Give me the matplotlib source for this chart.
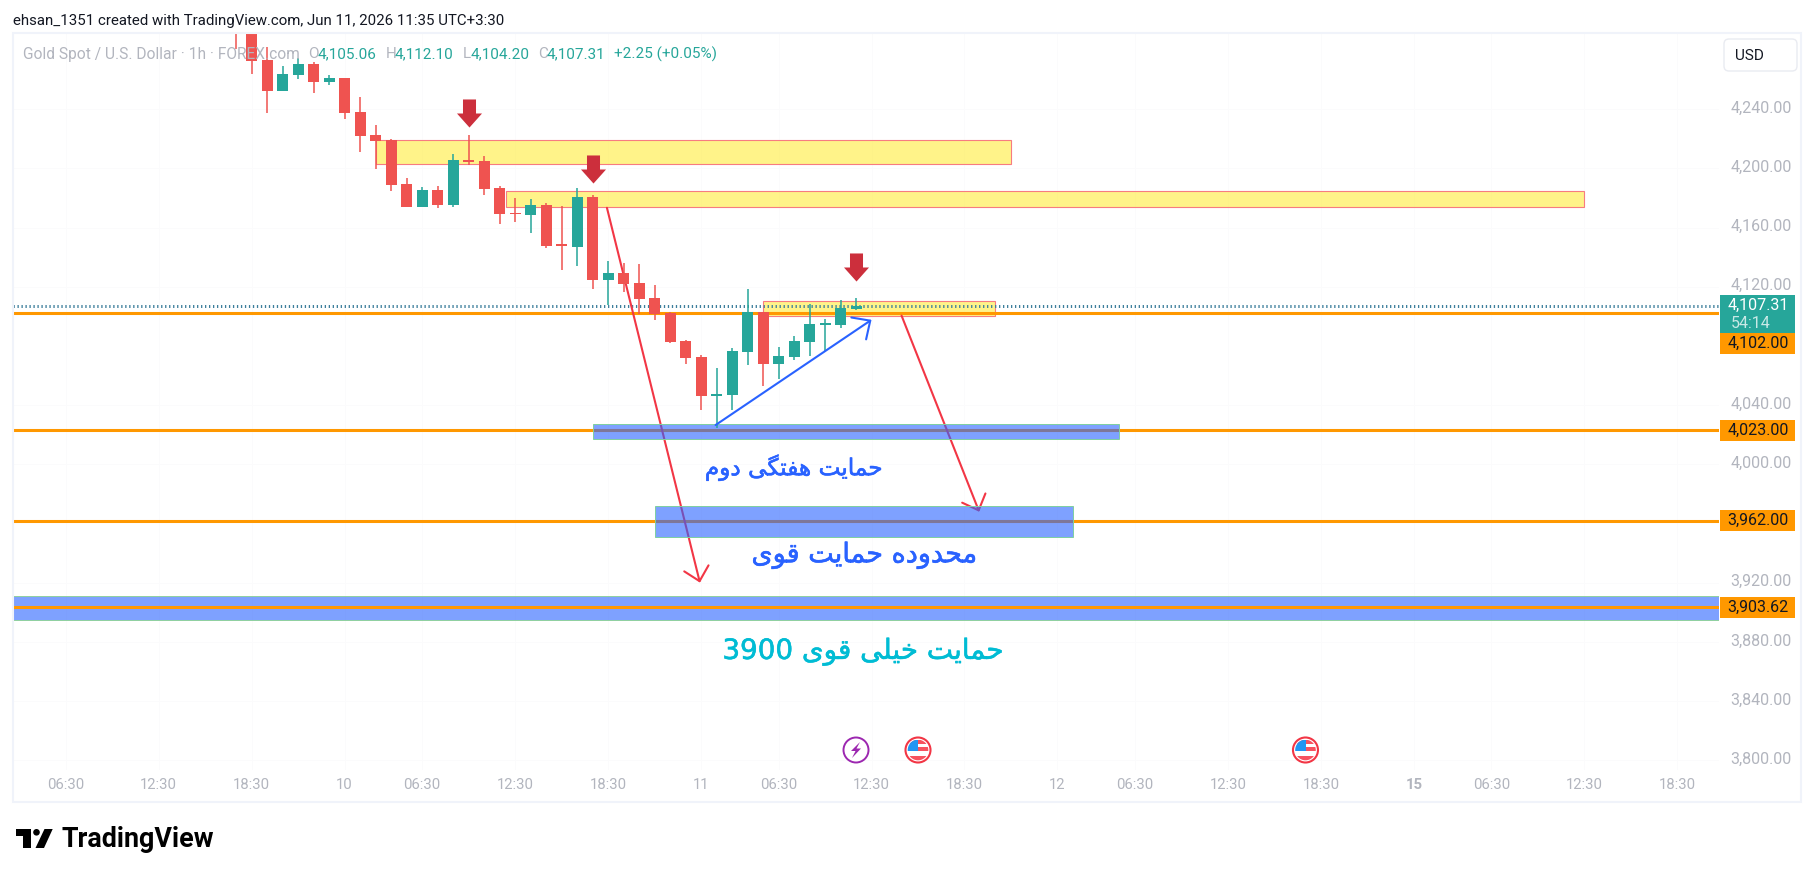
import matplotlib
matplotlib.use("Agg")
import matplotlib.pyplot as plt
from matplotlib.patches import Rectangle, FancyBboxPatch, Polygon, Circle
from matplotlib.path import Path
from matplotlib.transforms import Affine2D
from matplotlib.colors import to_rgba
import matplotlib.patheffects as pe

plt.rcParams['font.family'] = ['Roboto', 'DejaVu Sans']

# candles, one per hour, first one is mostly above the visible range
opens = [4310, 4295, 4273.2, 4252.5, 4263.3, 4270.5, 4258.6, 4261.1, 4238.1, 4222.6,
         4219.0, 4189.5, 4174.1, 4185.4, 4175.5, 4205.7, 4205.0, 4186.8, 4169.7, 4168.7,
         4175.3, 4148.2, 4147.1, 4180.7, 4124.8, 4129.3, 4122.6, 4112.4, 4102.3, 4083.4,
         4072.6, 4046.4, 4047.1, 4076.2, 4103.0, 4067.8, 4072.6, 4082.7, 4094.4, 4094.4,
         4105.06]
highs = [4320, 4300, 4281.8, 4269.2, 4274.8, 4272.1, 4262.9, 4261.1, 4248.0, 4229.1,
         4219.9, 4193.3, 4187.2, 4188.1, 4209.5, 4222.6, 4208.4, 4188.1, 4179.8, 4179.1,
         4176.6, 4174.6, 4186.6, 4182.0, 4137.4, 4135.9, 4135.2, 4121.2, 4103.0, 4084.1,
         4073.7, 4065.1, 4078.6, 4118.5, 4103.0, 4079.3, 4086.8, 4108.4, 4098.2, 4111.1,
         4112.10]
lows = [4281, 4263.8, 4237.6, 4252.5, 4260.6, 4251.1, 4256.4, 4233.6, 4211.3, 4199.8,
        4184.9, 4174.1, 4173.7, 4173.4, 4174.1, 4202.5, 4182.2, 4162.6, 4164.0, 4156.6,
        4146.4, 4131.6, 4134.3, 4118.7, 4107.9, 4116.7, 4101.8, 4097.6, 4082.0, 4067.8,
        4036.8, 4024.8, 4036.8, 4067.2, 4053.0, 4057.7, 4070.5, 4073.2, 4076.6, 4092.3,
        4104.20]
closes = [4295, 4272.8, 4252.5, 4263.8, 4270.5, 4258.6, 4261.1, 4237.6, 4222.1, 4218.7,
          4189.0, 4174.1, 4185.4, 4175.5, 4205.7, 4204.5, 4186.3, 4169.4, 4169.3, 4175.3,
          4147.8, 4147.8, 4180.7, 4124.8, 4129.3, 4122.1, 4112.0, 4101.8, 4082.9, 4072.1,
          4046.4, 4047.6, 4076.6, 4103.0, 4067.8, 4073.2, 4083.4, 4095.1, 4095.1, 4105.7,
          4107.31]

y_ticks = [4240, 4200, 4160, 4120, 4040, 4000, 3920, 3880, 3840, 3800]
x_ticks = [-11, -5, 1, 7, 12, 18, 24, 30, 35, 41, 47, 53, 58, 64, 70, 76, 81, 87, 93]
x_labels = ['06:30', '12:30', '18:30', '10', '06:30', '12:30', '18:30', '11', '06:30', '12:30',
            '18:30', '12', '06:30', '12:30', '18:30', '15', '06:30', '12:30', '18:30']

level_prices = [4102.00, 4023.00, 3962.00, 3903.62]
level_tags = ['4,102.00', '4,023.00', '3,962.00', '3,903.62']
last_price = 4107.31
countdown = '54:14'

# zones: first bar, last bar, upper price, lower price
yellow_zones = [(9, 50, 4219.0, 4202.8), (17.4, 87, 4184.5, 4173.7), (34, 49, 4110.2, 4100.0)]
blue_zones = [(23, 57, 4027.0, 4017.2), (27, 54, 3971.9, 3951.2)]
wide_zone = (3911.1, 3895.1)

# arrow drawings: bar, price -> bar, price
red_arrows = [((23.93, 4173.4), (29.93, 3920.1)), ((42.94, 4100.5), (47.95, 3968.0))]
blue_arrow = ((30.94, 4026.6), (41.0, 4097.7))
# big down markers (bar, price at their centre)
marker_bars = [15, 23, 40]
marker_prices = [4237.4, 4199.6, 4133.4]
event_bolt_bars = [40]
event_flag_bars = [44, 69]

notes = ['حمایت هفتگی دوم', 'محدوده حمایت قوی', 'حمایت خیلی قوی 3900']
note_bars = [35.96, 40.55, 40.46]
note_prices = [3997.6, 3938.8, 3873.3]
note_colors = ['#2962ff', '#2962ff', '#00bcd4']
note_sizes = [16.7, 19.5, 20]

GREEN = '#26a69a'
RED = '#ef5350'
ORANGE = '#ff9800'
GREY = '#b2b5be'

# four-form letters start at isolated, then final, initial, medial
JOINING = {'ت': 0xFE95, 'ح': 0xFEA1, 'خ': 0xFEA5, 'ف': 0xFED1, 'ق': 0xFED5, 'ل': 0xFEDD,
           'م': 0xFEE1, 'ه': 0xFEE9, 'ی': 0xFBFC, 'گ': 0xFB92}
RIGHT_ONLY = {'ا': 0xFE8D, 'د': 0xFEA9, 'و': 0xFEED}


def shape(text):
    # matplotlib has no bidi or shaping, so pick the forms and lay them out left to right
    out = []
    for word in text.split(' ')[::-1]:
        if word.isdigit():
            out.append(word)
            continue
        glyphs = ''
        for k, ch in enumerate(word):
            after = k > 0 and word[k - 1] in JOINING
            before = k < len(word) - 1 and ch in JOINING
            base = JOINING.get(ch, RIGHT_ONLY.get(ch))
            form = {(0, 0): 0, (1, 0): 1, (0, 1): 2, (1, 1): 3}[(int(after), int(before))]
            glyphs = chr(base + form) + glyphs
        out.append(glyphs)
    return ' '.join(out)


W, H = 1814, 877
fig = plt.figure(figsize=(W / 100, H / 100), dpi=100, facecolor='white')

# pixel overlay for the frame and everything outside the price pane
over = fig.add_axes([0, 0, 1, 1], zorder=3)
over.set_xlim(0, W)
over.set_ylim(H, 0)
over.axis('off')
over.patch.set_alpha(0)

left, right, top, bottom = 13, 1719, 33, 770
ax = fig.add_axes([left / W, 1 - bottom / H, (right - left) / W, (bottom - top) / H], zorder=1)
ax.set_xlim(-14.39, 95.68)
ax.set_ylim(3793.5, 4291.5)
for s in ax.spines.values():
    s.set_visible(False)
ax.yaxis.tick_right()
ax.set_yticks(y_ticks)
ax.set_yticklabels([f'{v:,.2f}' for v in y_ticks], color=GREY, fontsize=11.5)
ax.set_xticks(x_ticks)
ax.set_xticklabels(x_labels, color=GREY, fontsize=10.7)
ax.tick_params(length=0)
ax.tick_params(axis='y', pad=8)
ax.tick_params(axis='x', pad=6)
ax.grid(color='#fbfbfc', lw=0.7)
ax.set_axisbelow(True)
for lab in ax.get_yticklabels():
    lab.set_transform(lab.get_transform() + Affine2D().translate(0, 2.5))
for lab, t in zip(ax.get_xticklabels(), x_labels):
    if t == '15':
        lab.set_fontweight('bold')

for x0, x1, p1, p0 in yellow_zones:
    ax.add_patch(Rectangle((x0, p0), x1 - x0, p1 - p0, fc=to_rgba('#ffeb3b', 0.6),
                           ec='#f77c80', lw=0.8, zorder=1.5))

ax.add_patch(Rectangle((-14.39, wide_zone[1]), 110.07, wide_zone[0] - wide_zone[1],
                       fc=to_rgba('#2962ff', 0.6), ec='#8fd19e', lw=0.7, zorder=1.6))

for p in level_prices:
    ax.axhline(p, color=ORANGE, lw=2.2, zorder=2)

ax.axhline(last_price, color='#3d7f9c', lw=2.16, ls=(0, (0.43, 0.9)), dash_capstyle='butt', zorder=2.1)

for start, end in red_arrows:
    ax.annotate('', xy=end, xytext=start, zorder=2.3,
                arrowprops=dict(arrowstyle='->,head_length=0.95,head_width=0.9', color='#f23645',
                                lw=1.5, shrinkA=0, shrinkB=0, mutation_scale=10))

for x0, x1, p1, p0 in blue_zones:
    ax.add_patch(Rectangle((x0, p0), x1 - x0, p1 - p0, fc=to_rgba('#2962ff', 0.6),
                           ec='#7fd0a0', lw=0.7, zorder=2.5))

# candles
for i, (o, h, l, c) in enumerate(zip(opens, highs, lows, closes)):
    col = GREEN if c >= o else RED
    ax.vlines(i, l, h, color=col, lw=1.1, zorder=3)
    ax.bar(i, max(abs(c - o), 0.9), bottom=min(o, c), width=0.71, color=col, lw=0, zorder=3.1)

ax.annotate('', xy=blue_arrow[1], xytext=blue_arrow[0], zorder=3.5,
            arrowprops=dict(arrowstyle='->,head_length=1.0,head_width=0.95', color='#2962ff',
                            lw=1.5, shrinkA=0, shrinkB=0, mutation_scale=10))

down = Path([(-6.5, 14), (6.5, 14), (6.5, 0), (12.5, 0), (0, -14), (-12.5, 0), (-6.5, 0), (-6.5, 14)], closed=True)
ax.plot(marker_bars, marker_prices, ls='none', marker=down, ms=20.2, mfc='#cc2f3c', mec='none', zorder=4)

for n, b, p, c, s in zip(notes, note_bars, note_prices, note_colors, note_sizes):
    t = ax.text(b, p, shape(n), color=c, fontsize=s, ha='center', va='center',
                family='DejaVu Sans', zorder=5)
    t.set_path_effects([pe.withStroke(linewidth=0.4, foreground=c)])

# frame and header
over.add_patch(Rectangle((13, 33), 1788, 769, fc='none', ec='#f0f3fa', lw=1.5))
over.text(13, 21.5, 'ehsan_1351 created with TradingView.com, Jun 11, 2026 11:35 UTC+3:30',
          color='#131722', fontsize=10.8, va='center')

legend_y = 54.5
over.text(23, legend_y, 'Gold Spot / U.S. Dollar · 1h · FOREX.com', color=GREY, fontsize=11.2, va='center')
for x, t, c in [(308.6, 'O', GREY), (318, '4,105.06', GREEN), (385.6, 'H', GREY), (395, '4,112.10', GREEN),
                (463, 'L', GREY), (471, '4,104.20', GREEN), (538, 'C', GREY), (547, '4,107.31', GREEN),
                (614, '+2.25 (+0.05%)', GREEN)]:
    over.text(x, legend_y, t, color=c, fontsize=11, va='center')

# USD button
over.add_patch(FancyBboxPatch((1727, 42), 67, 26, boxstyle='round,pad=3,rounding_size=5',
                              fc='white', ec='#e9ebf1', lw=1))
over.text(1735, 56.5, 'USD', color='#131722', fontsize=11, va='center')

# price tags on the axis
over.add_patch(Rectangle((1720, 295), 75, 38.7, fc=GREEN, ec='none'))
over.text(1789, 305, f'{last_price:,.2f}', color='white', fontsize=11.5, ha='right', va='center')
over.text(1731, 323, countdown, color='#c8e9e6', fontsize=11.5, va='center')
for tag, yc in zip(level_tags, [343.7, 430.5, 520.5, 607.5]):
    over.add_patch(Rectangle((1720, yc - 10.3), 75, 20.6, fc=ORANGE, ec='none'))
    over.text(1789, yc, tag, color='#131722', fontsize=11.5, ha='right', va='center')

# event icons under the candles
for b in event_bolt_bars:
    x = ax.transData.transform((b, 0))[0]
    over.add_patch(Circle((x, 750), 12.5, fc='white', ec='#9c27b0', lw=1.4))
    over.add_patch(Polygon([(x + 4, 742), (x - 5, 751), (x - 0.5, 751), (x - 4, 758), (x + 5, 748.5), (x + 0.5, 748.5)],
                           fc='#9c27b0', ec='none'))
for b in event_flag_bars:
    x = ax.transData.transform((b, 0))[0]
    ring = Circle((x, 750), 12.5, fc='white', ec='#f23645', lw=1.5)
    over.add_patch(ring)
    clip = Circle((x, 750), 10.3, transform=over.transData)
    for r, c in [((x - 10.5, 739.5, 21, 4), '#f7525f'), ((x, 746.5, 11, 4.5), '#f7525f'),
                 ((x - 10.5, 756, 21, 5), '#f7525f'), ((x - 10.5, 739.5, 11, 11), '#2196f3')]:
        bar = Rectangle(r[:2], r[2], r[3], fc=c, ec='none')
        over.add_patch(bar)
        bar.set_clip_path(clip)

# TradingView logo
over.add_patch(Polygon([(15.6, 829), (31, 829), (31, 848), (23, 848), (23, 835.5), (15.6, 835.5)], fc='black', ec='none'))
over.add_patch(Circle((36.5, 832.3), 3.3, fc='black', ec='none'))
over.add_patch(Polygon([(44.5, 829), (52.7, 829), (44, 848), (35.5, 848)], fc='black', ec='none'))
over.text(61, 839.5, 'TradingView', color='black', fontsize=19.4, fontweight='bold', va='center')

fig.savefig('out.png', dpi=100)
